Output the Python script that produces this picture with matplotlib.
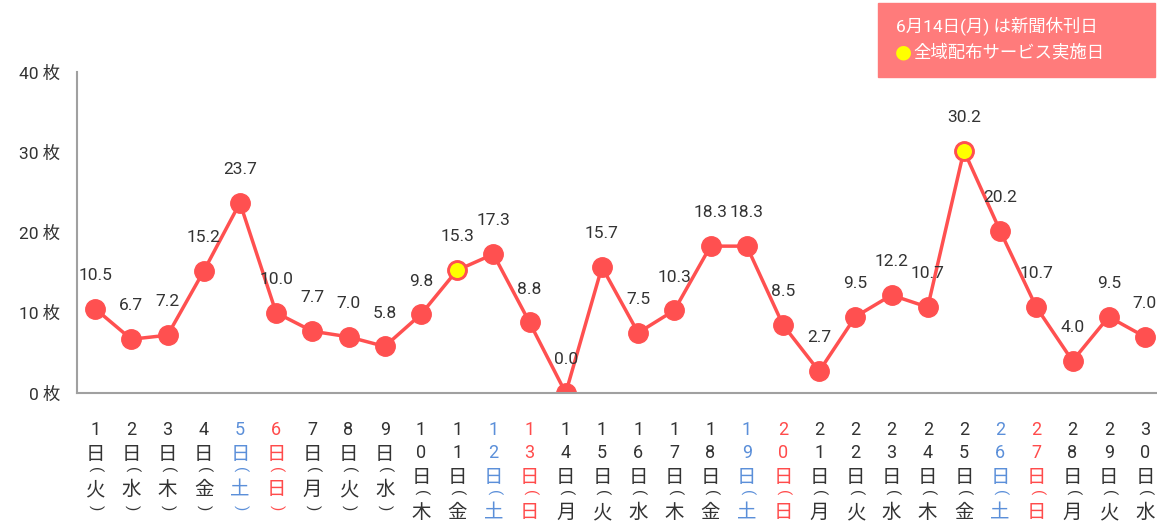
import matplotlib.pyplot as plt

plt.rcParams['font.family'] = ['Roboto', 'Noto Sans CJK JP', 'DejaVu Sans']

days = list(range(1, 31))
weekdays = ['火', '水', '木', '金', '土', '日', '月'] * 5
weekdays = weekdays[:30]
values = [10.5, 6.7, 7.2, 15.2, 23.7, 10.0, 7.7, 7.0, 5.8, 9.8,
          15.3, 17.3, 8.8, 0.0, 15.7, 7.5, 10.3, 18.3, 18.3, 8.5,
          2.7, 9.5, 12.2, 10.7, 30.2, 20.2, 10.7, 4.0, 9.5, 7.0]
service_days = [11, 25]
yticks = [0, 10, 20, 30, 40]

red = '#FF5050'
fig = plt.figure(figsize=(11.57, 5.24), dpi=100)
ax = fig.add_axes([0.0666, 0.25, 0.9386, 0.6126])

x = list(range(len(days)))
ax.plot(x, values, color=red, lw=2.5, marker='o', ms=14, mfc=red, mec=red, zorder=2)
for d in service_days:
    ax.plot(d - 1, values[d - 1], marker='o', ms=12, mfc='#FFFF00', mec=red, mew=1.2, zorder=3)

for i, v in zip(x, values):
    ax.annotate(f'{v:.1f}', (i, v), xytext=(0, 24), textcoords='offset points',
                ha='center', va='center', fontsize=12.5, color='#333333')

ax.set_xlim(-0.5, 29.5)
ax.set_ylim(0, 40)
ax.set_yticks(yticks)
ax.set_yticklabels([f'{t} 枚' for t in yticks], fontsize=12.5, color='#333333')
ax.tick_params(axis='y', length=0, pad=12)

# vertical x labels, one character per row (pixel offsets below the axis)
ax.set_xticks([])
for i, (d, w) in enumerate(zip(days, weekdays)):
    col = '#333333'
    if w == '土':
        col = '#5B8FD9'
    elif w == '日':
        col = '#FF4B4B'
    rows = [(c, 23) for c in str(d)] + [('日', 25), ('(', 15), (w, 20), (')', 18)]
    y = 430 - 393 - 23
    for c, step in rows:
        y += step
        if c in '()':
            ax.annotate(c, (i, 0), xytext=(0, -y * 0.72), textcoords='offset points',
                        ha='center', va='center', fontsize=11, color=col, rotation=-90,
                        annotation_clip=False, family=['Roboto'])
        else:
            fs = 13 if c.isdigit() else 14
            ax.annotate(c, (i, 0), xytext=(0, -y * 0.72), textcoords='offset points',
                        ha='center', va='center', fontsize=fs, color=col,
                        annotation_clip=False)

for s in ['top', 'right']:
    ax.spines[s].set_visible(False)
for s in ['left', 'bottom']:
    ax.spines[s].set_color('#A0A0A0')
    ax.spines[s].set_linewidth(1.5)

fig.patches.append(plt.Rectangle((878 / 1157, 1 - 77 / 524), 277 / 1157, 74 / 524,
                                 transform=fig.transFigure, color='#FF7B7B', zorder=5))
fig.text(896 / 1157, 1 - 26 / 524, '6月14日(月) は新聞休刊日', color='white', fontsize=12.5,
         va='center', ha='left', zorder=6)
fig.text(895 / 1157, 1 - 52 / 524, '●', color='#FFFF00', fontsize=14, va='center', ha='left',
         zorder=6, family=['DejaVu Sans'])
fig.text(913 / 1157, 1 - 52 / 524, '全域配布サービス実施日', color='white', fontsize=12.5,
         va='center', ha='left', zorder=6)

fig.savefig('out.png', dpi=100)
